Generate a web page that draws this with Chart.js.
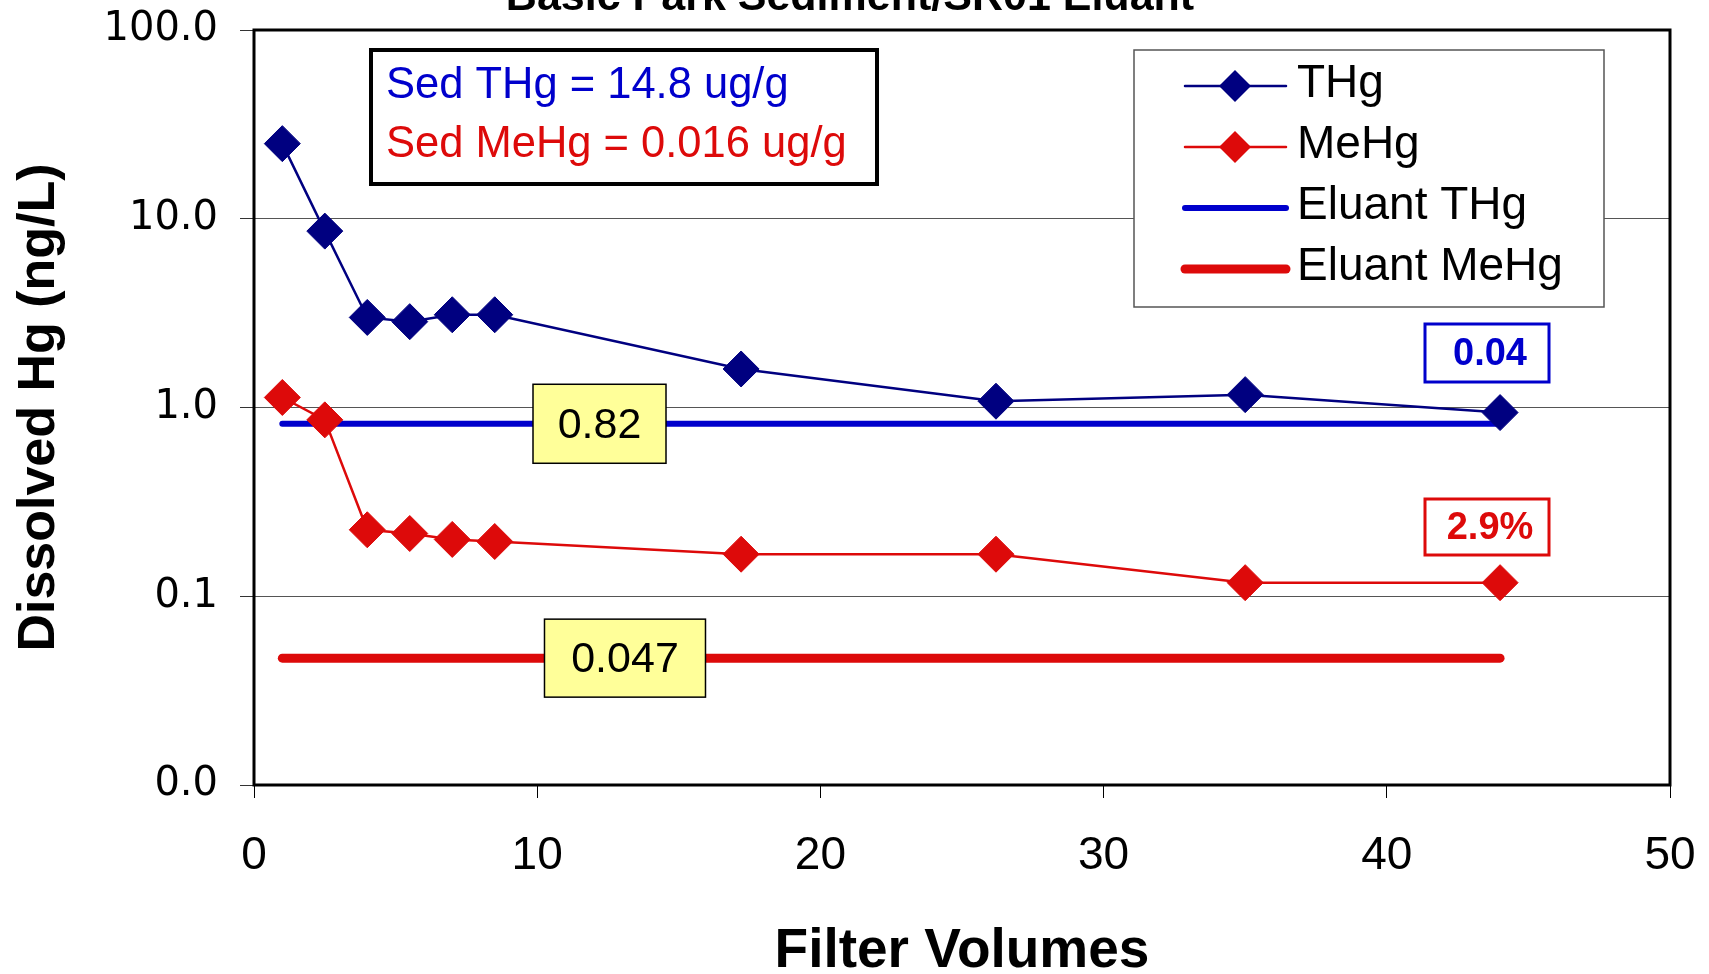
<!DOCTYPE html>
<html>
<head>
<meta charset="utf-8">
<script src="https://cdn.jsdelivr.net/npm/chart.js@4.4.0/dist/chart.umd.min.js"></script>
<style>
  html, body { margin: 0; padding: 0; background: #fff; }
</style>
</head>
<body>
<canvas id="hgChart" width="1709" height="974"></canvas>
<script>
// values
var filterVolumes = [1, 2.5, 4, 5.5, 7, 8.5, 17.2, 26.2, 35, 44];
var thgValues = [25.0, 8.6, 3.0, 2.85, 3.1, 3.1, 1.6, 1.08, 1.17, 0.94];
var mehgValues = [1.13, 0.86, 0.225, 0.215, 0.2, 0.195, 0.167, 0.167, 0.118, 0.118];
var eluantX = [1, 44];
var eluantThg = 0.82;
var eluantMehg = 0.047;
var eluantLabels = ['0.82', '0.047'];
var xTicks = [0, 10, 20, 30, 40, 50];
var yTickVals = [0.01, 0.1, 1, 10, 100];
var yTickLabels = ['0.0', '0.1', '1.0', '10.0', '100.0'];
var sedLines = ['Sed THg = 14.8 ug/g', 'Sed MeHg = 0.016 ug/g'];
var pctLabels = ['0.04', '2.9%'];
var chartTitle = 'Basic Park Sediment/SR01 Eluant';

var NAVY = '#000080', RED = '#dd0a0a', BLUE = '#0000cc';
var SANS = '"Liberation Sans", Arial, sans-serif';

function toPoints(xs, ys) {
  return xs.map(function (x, i) { return { x: x, y: ys[i] }; });
}

function diamond(ctx, x, y, r, color) {
  ctx.beginPath();
  ctx.moveTo(x, y - r);
  ctx.lineTo(x + r, y);
  ctx.lineTo(x, y + r);
  ctx.lineTo(x - r, y);
  ctx.closePath();
  ctx.fillStyle = color;
  ctx.fill();
}

function textBox(ctx, cx, cy, w, h, txt, opts) {
  ctx.fillStyle = opts.fill || '#fff';
  ctx.fillRect(cx - w / 2, cy - h / 2, w, h);
  ctx.strokeStyle = opts.stroke;
  ctx.lineWidth = opts.lw;
  ctx.strokeRect(cx - w / 2, cy - h / 2, w, h);
  ctx.fillStyle = opts.color;
  ctx.font = opts.font;
  ctx.textAlign = 'center';
  ctx.textBaseline = 'middle';
  ctx.fillText(txt, cx + (opts.dx || 0), cy + 2);
}

var framePlugin = {
  id: 'frame',
  afterDatasetsDraw: function (chart) {
    var a = chart.chartArea, ctx = chart.ctx;
    ctx.save();
    ctx.strokeStyle = '#000';
    ctx.lineWidth = 3;
    ctx.strokeRect(a.left, a.top, a.right - a.left, a.bottom - a.top);
    ctx.restore();
  }
};

var notesPlugin = {
  id: 'notes',
  afterDraw: function (chart) {
    var ctx = chart.ctx;
    var xs = chart.scales.x, ys = chart.scales.y;
    ctx.save();

    // clipped title at the very top
    ctx.fillStyle = '#000';
    ctx.font = 'bold 43px ' + SANS;
    ctx.textAlign = 'center';
    ctx.textBaseline = 'alphabetic';
    ctx.fillText(chartTitle, 850, 10);

    // sediment box
    ctx.fillStyle = '#fff';
    ctx.fillRect(371, 50, 506, 134);
    ctx.strokeStyle = '#000';
    ctx.lineWidth = 4;
    ctx.strokeRect(371, 50, 506, 134);
    ctx.font = '43.5px ' + SANS;
    ctx.textAlign = 'left';
    ctx.fillStyle = BLUE;
    ctx.fillText(sedLines[0], 386, 98);
    ctx.fillStyle = RED;
    ctx.fillText(sedLines[1], 386, 157);

    // eluant value labels
    var yb = { fill: '#ffff99', stroke: '#000', lw: 1.5, color: '#000', font: '43px ' + SANS };
    textBox(ctx, xs.getPixelForValue(12.2), ys.getPixelForValue(eluantThg), 133, 79, eluantLabels[0], yb);
    textBox(ctx, xs.getPixelForValue(13.1), ys.getPixelForValue(eluantMehg), 161, 78, eluantLabels[1], yb);

    // percent boxes
    textBox(ctx, 1487, 353, 124, 58, pctLabels[0], { stroke: BLUE, lw: 3, color: BLUE, font: 'bold 38px ' + SANS, dx: 3 });
    textBox(ctx, 1487, 527, 124, 56, pctLabels[1], { stroke: RED, lw: 3, color: RED, font: 'bold 38px ' + SANS, dx: 3 });

    // legend
    ctx.fillStyle = '#fff';
    ctx.fillRect(1134, 50, 470, 257);
    ctx.strokeStyle = '#555';
    ctx.lineWidth = 1.5;
    ctx.strokeRect(1134, 50, 470, 257);
    chart.data.datasets.forEach(function (ds, i) {
      var y = 86 + i * 61;
      ctx.strokeStyle = ds.borderColor;
      ctx.lineWidth = ds.borderWidth;
      ctx.lineCap = 'round';
      ctx.beginPath();
      ctx.moveTo(1185, y);
      ctx.lineTo(1286, y);
      ctx.stroke();
      if (ds.pointRadius) diamond(ctx, 1235, y, 16, ds.backgroundColor);
      ctx.fillStyle = '#000';
      ctx.font = '46px ' + SANS;
      ctx.textAlign = 'left';
      ctx.textBaseline = 'alphabetic';
      ctx.fillText(ds.label, 1297, y + 11);
    });
    ctx.restore();
  }
};

var ctx = document.getElementById('hgChart').getContext('2d');
var chart = new Chart(ctx, {
  type: 'line',
  data: {
    datasets: [{
      label: 'THg',
      data: toPoints(filterVolumes, thgValues),
      borderColor: NAVY,
      backgroundColor: NAVY,
      borderWidth: 2.5,
      pointStyle: 'rectRot',
      pointRadius: 18,
      pointBorderWidth: 1,
      tension: 0
    }, {
      label: 'MeHg',
      data: toPoints(filterVolumes, mehgValues),
      borderColor: RED,
      backgroundColor: RED,
      borderWidth: 2.5,
      pointStyle: 'rectRot',
      pointRadius: 18,
      pointBorderWidth: 1,
      tension: 0
    }, {
      label: 'Eluant THg',
      data: toPoints(eluantX, [eluantThg, eluantThg]),
      borderColor: BLUE,
      backgroundColor: BLUE,
      borderWidth: 6,
      borderCapStyle: 'round',
      pointRadius: 0
    }, {
      label: 'Eluant MeHg',
      data: toPoints(eluantX, [eluantMehg, eluantMehg]),
      borderColor: RED,
      backgroundColor: RED,
      borderWidth: 9,
      borderCapStyle: 'round',
      pointRadius: 0
    }]
  },
  options: {
    responsive: false,
    animation: false,
    layout: { autoPadding: false, padding: { top: 30, right: 39, left: 0, bottom: 0 } },
    plugins: {
      legend: { display: false },
      tooltip: { enabled: false }
    },
    scales: {
      x: {
        type: 'linear',
        min: 0,
        max: 50,
        afterBuildTicks: function (s) { s.ticks = xTicks.map(function (v) { return { value: v }; }); },
        afterFit: function (s) {
          s.height = 974 - 785;
          s.paddingLeft = 0;
          s.paddingRight = 0;
        },
        grid: { drawOnChartArea: false, drawTicks: true, tickLength: 13, tickColor: '#000' },
        border: { display: false },
        ticks: { color: '#000', font: { family: SANS, size: 46 }, padding: 31, maxRotation: 0 },
        title: {
          display: true,
          text: 'Filter Volumes',
          color: '#000',
          font: { family: SANS, size: 55, weight: 'bold', lineHeight: 0.8 },
          padding: { top: 0, bottom: 0 }
        }
      },
      y: {
        type: 'logarithmic',
        min: 0.01,
        max: 100,
        afterBuildTicks: function (s) { s.ticks = yTickVals.map(function (v) { return { value: v }; }); },
        afterFit: function (s) {
          s.width = 254;
          s.paddingTop = 0;
          s.paddingBottom = 0;
        },
        grid: { color: '#555', lineWidth: 1, drawTicks: true, tickLength: 14, tickColor: '#333' },
        border: { display: false },
        ticks: {
          color: '#000',
          font: { family: '"DejaVu Sans", sans-serif', size: 40 },
          padding: 22,
          callback: function (v) { return yTickLabels[yTickVals.indexOf(v)]; }
        },
        title: {
          display: true,
          text: 'Dissolved Hg (ng/L)',
          color: '#000',
          font: { family: SANS, size: 52, weight: 'bold', lineHeight: 1 },
          padding: { top: 14, bottom: 0 }
        }
      }
    }
  },
  plugins: [framePlugin, notesPlugin]
});
</script>
</body>
</html>
